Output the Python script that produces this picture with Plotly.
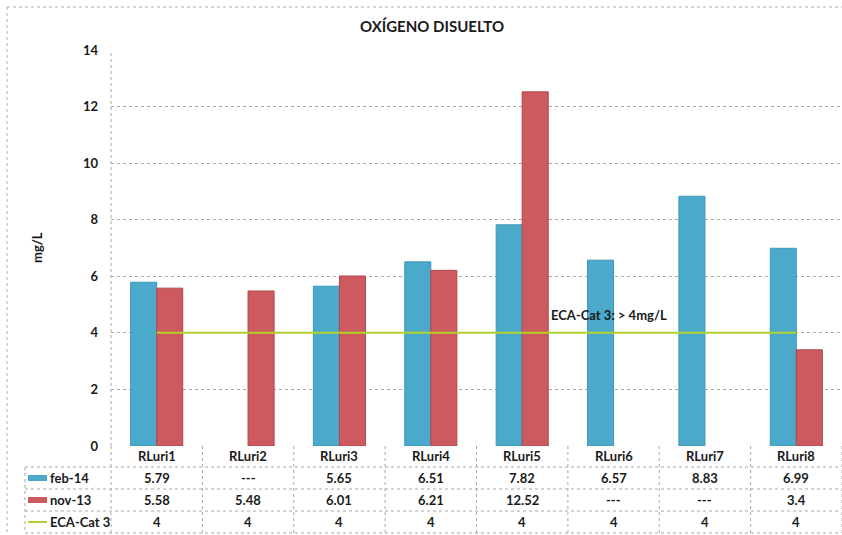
import plotly.graph_objects as go

# ---------------- data ----------------
categories = ['RLuri1', 'RLuri2', 'RLuri3', 'RLuri4', 'RLuri5', 'RLuri6', 'RLuri7', 'RLuri8']
feb14 = [5.79, None, 5.65, 6.51, 7.82, 6.57, 8.83, 6.99]
nov13 = [5.58, 5.48, 6.01, 6.21, 12.52, None, None, 3.4]
eca_cat3 = [4, 4, 4, 4, 4, 4, 4, 4]
series_names = ['feb-14', 'nov-13', 'ECA-Cat 3']
y_ticks = [0, 2, 4, 6, 8, 10, 12, 14]

BLUE = '#4BA9CC'
RED = '#CC5A5E'
GREEN = '#B2D22A'
GRID = '#A8A8A8'
FONT = 'Lato'

W, H = 842, 535
ML, MR, MT, MB = 111, 0, 50, 89
PW = W - ML - MR
PH = H - MT - MB


def px_x(px):
    return (px - ML) / PW


def px_y(py):
    return (H - MB - py) / PH


xs = list(range(len(categories)))

fig = go.Figure()
fig.add_trace(go.Bar(x=xs, y=feb14, name=series_names[0], marker=dict(color=BLUE, line=dict(color='#3E97B8', width=1))))
fig.add_trace(go.Bar(x=xs, y=nov13, name=series_names[1], marker=dict(color=RED, line=dict(color='#B04649', width=1))))
fig.add_trace(go.Scatter(x=xs, y=eca_cat3, name=series_names[2], mode='lines', line=dict(color=GREEN, width=2)))

shapes = []
annotations = []

# outer chart border (dotted)
shapes.append(dict(type='line', xref='paper', yref='paper', x0=px_x(7), x1=px_x(842), y0=px_y(7), y1=px_y(7),
                   line=dict(color='#B0B0B0', width=1, dash='dot')))
shapes.append(dict(type='line', xref='paper', yref='paper', x0=px_x(7), x1=px_x(7), y0=px_y(7), y1=px_y(535),
                   line=dict(color='#B0B0B0', width=1, dash='dot')))
# left axis line
shapes.append(dict(type='line', xref='paper', yref='paper', x0=0, x1=0, y0=0, y1=1,
                   line=dict(color=GRID, width=1, dash='dot')))

# table grid
tbl_left = px_x(25)
tbl_right = px_x(840)
row_borders = [467, 489, 511, 533]
for rb in row_borders:
    shapes.append(dict(type='line', xref='paper', yref='paper', x0=tbl_left, x1=tbl_right,
                       y0=px_y(rb), y1=px_y(rb), line=dict(color=GRID, width=1, dash='dot')))
shapes.append(dict(type='line', xref='paper', yref='paper', x0=tbl_left, x1=tbl_left,
                   y0=px_y(467), y1=px_y(533), line=dict(color=GRID, width=1, dash='dot')))
shapes.append(dict(type='line', xref='paper', yref='paper', x0=0, x1=0,
                   y0=0, y1=px_y(533), line=dict(color=GRID, width=1, dash='dot')))
for i in range(len(categories)):
    shapes.append(dict(type='line', xref='x', yref='paper', x0=i + 0.5, x1=i + 0.5,
                       y0=0, y1=px_y(533), line=dict(color=GRID, width=1, dash='dot')))

# table contents
row_centers = [456, 478, 500, 522]
tf = dict(family=FONT, size=13, color='#1a1a1a')


def fmt(v):
    return '---' if v is None else ('%g' % v)


for i, c in enumerate(categories):
    annotations.append(dict(x=i, y=px_y(row_centers[0]), xref='x', yref='paper', text='<b>%s</b>' % c,
                            showarrow=False, font=tf, xanchor='center', yanchor='middle'))
    for r, vals in enumerate([feb14, nov13, eca_cat3]):
        annotations.append(dict(x=i, y=px_y(row_centers[r + 1]), xref='x', yref='paper',
                                text='<b>%s</b>' % fmt(vals[i]), showarrow=False, font=tf,
                                xanchor='center', yanchor='middle'))

# legend column
for r, (nm, col) in enumerate(zip(series_names, [BLUE, RED, GREEN])):
    cy = row_centers[r + 1]
    if r < 2:
        shapes.append(dict(type='rect', xref='paper', yref='paper', x0=px_x(28), x1=px_x(47),
                           y0=px_y(cy + 3), y1=px_y(cy - 3), fillcolor=col, line=dict(width=0)))
    else:
        shapes.append(dict(type='line', xref='paper', yref='paper', x0=px_x(28), x1=px_x(47),
                           y0=px_y(cy), y1=px_y(cy), line=dict(color=col, width=2)))
    annotations.append(dict(x=px_x(48), y=px_y(cy), xref='paper', yref='paper', text='<b>%s</b>' % nm,
                            showarrow=False, font=tf, xanchor='left', yanchor='middle'))

# title
annotations.append(dict(x=px_x(432), y=px_y(26), xref='paper', yref='paper', text='<b>OXÍGENO DISUELTO</b>',
                        showarrow=False, font=dict(family=FONT, size=15, color='#1a1a1a'),
                        xanchor='center', yanchor='middle'))
# y title
annotations.append(dict(x=px_x(37), y=0.5, xref='paper', yref='paper', text='<b>mg/L</b>', textangle=-90,
                        showarrow=False, font=dict(family=FONT, size=13, color='#1a1a1a'),
                        xanchor='center', yanchor='middle'))
# ECA label
annotations.append(dict(x=4.29, y=4.63, xref='x', yref='y', text='<b>ECA-Cat 3: > 4mg/L</b>',
                        showarrow=False, font=dict(family=FONT, size=13, color='#1a1a1a'),
                        xanchor='left', yanchor='middle'))

fig.update_layout(
    width=W, height=H,
    margin=dict(l=ML, r=MR, t=MT, b=MB, pad=0),
    paper_bgcolor='white', plot_bgcolor='white',
    showlegend=False,
    barmode='group', bargap=0.43, bargroupgap=0,
    xaxis=dict(range=[-0.5, 7.5], showticklabels=False, showgrid=False, zeroline=False, ticks='',
               showline=False, fixedrange=True),
    yaxis=dict(range=[0, 14], tickvals=y_ticks, showgrid=True, gridcolor=GRID, griddash='dot', gridwidth=1,
               zeroline=False, showline=False, ticks='', ticklabelstandoff=12,
               tickfont=dict(family=FONT, size=13, color='#1a1a1a', weight='bold')),
    shapes=shapes,
    annotations=annotations,
)

fig.write_html('out.html')
